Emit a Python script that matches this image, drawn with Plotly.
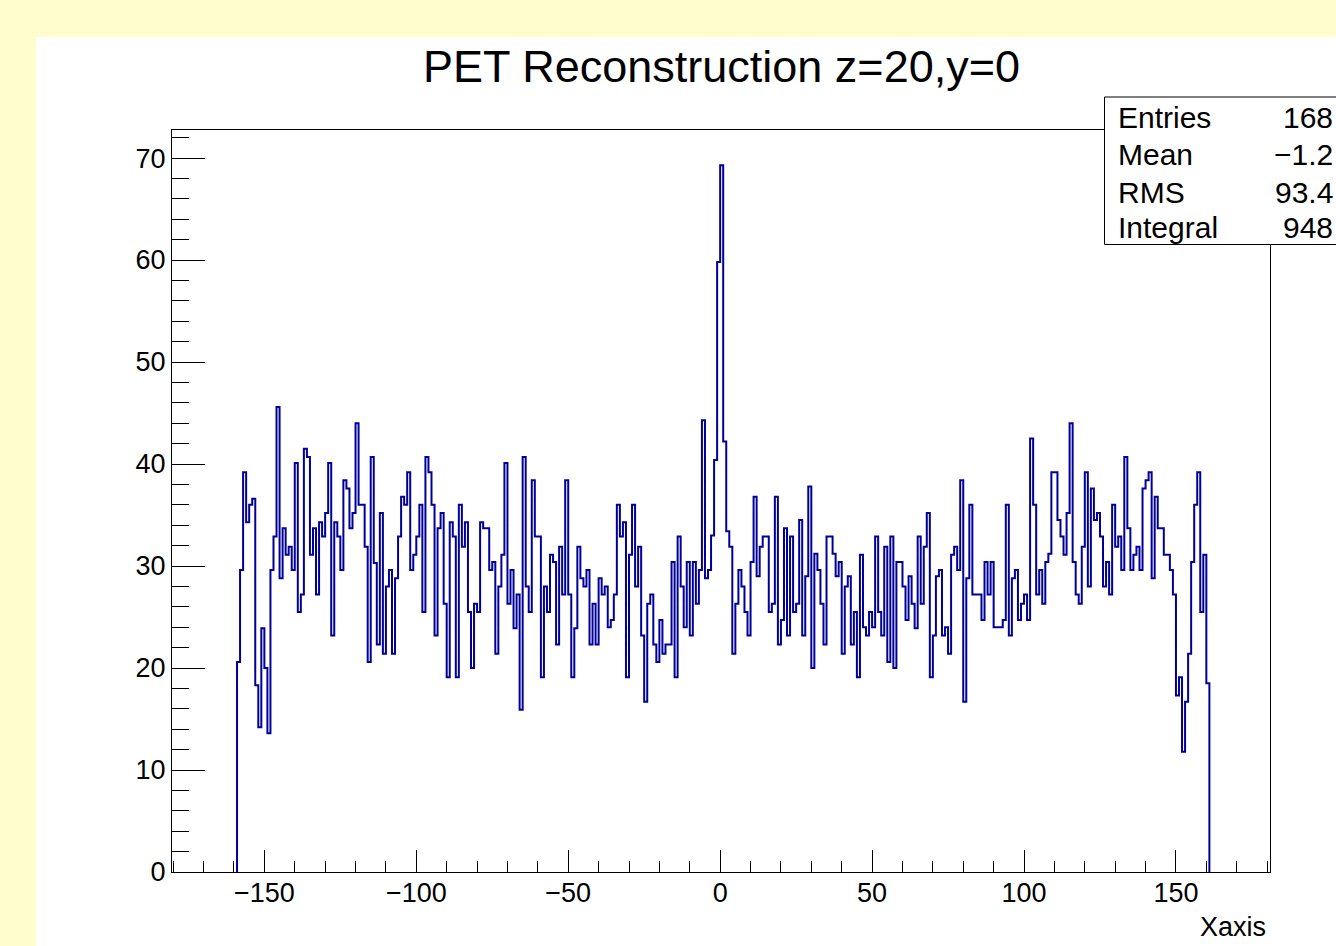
import numpy as np
import plotly.graph_objects as go

# ---------------- data ----------------
hist_lo = -159.0
hist_hi = 161.0
counts = [
    # -159 .. -121
    20.6, 29.6, 39.2, 34.3, 36.0, 36.6, 18.3, 14.2, 23.9, 20.0,
    13.6, 29.6, 32.9, 45.6, 28.8, 33.7, 31.1, 31.9, 29.6, 40.1,
    25.5, 27.2, 41.5, 40.7, 31.1, 33.7, 27.2, 34.3, 32.9, 35.2,
    40.1, 23.2, 34.3, 32.9, 29.6, 38.4, 37.6, 33.7, 35.2,
    # -120 .. -80
    44.0, 36.0, 36.0, 31.9, 20.6, 40.7, 30.3, 22.3, 35.2, 21.4,
    28.0, 29.6, 21.4, 28.8, 32.9, 36.8, 36.0, 39.2, 29.6, 31.1,
    32.9, 36.0, 25.5, 40.7, 39.2, 36.0, 23.2, 33.7, 35.2, 26.3,
    19.1, 34.3, 32.9, 19.1, 36.0, 31.9, 34.3, 25.5, 20.0, 26.3,
    25.5,
    # -79 .. -39
    34.3, 33.7, 33.7, 29.6, 30.4, 21.4, 28.0, 31.1, 40.1, 26.3,
    29.6, 23.9, 27.2, 15.9, 40.7, 28.0, 25.5, 38.4, 32.9, 32.9,
    19.1, 28.0, 25.5, 31.1, 30.4, 22.3, 31.9, 27.2, 38.4, 27.2,
    19.1, 23.9, 31.9, 28.8, 28.0, 29.6, 22.3, 26.3, 22.3, 28.8,
    27.2,
    # -38 .. 3
    28.0, 24.0, 24.7, 27.2, 36.0, 32.9, 34.3, 19.1, 31.1, 36.0,
    28.0, 31.9, 23.2, 16.7, 26.3, 27.2, 22.3, 20.6, 24.7, 21.4,
    22.3, 22.3, 30.4, 19.1, 32.9, 28.0, 24.0, 30.4, 23.2, 30.4,
    26.3, 29.6, 44.3, 28.8, 29.6, 33.0, 40.4, 59.8, 69.3, 42.2,
    33.4, 31.9,
    # 4 .. 44
    21.4, 26.3, 29.6, 28.0, 25.5, 23.2, 30.4, 36.8, 29.0, 31.9,
    32.9, 32.9, 25.5, 26.3, 36.8, 22.3, 24.7, 33.7, 23.2, 32.9,
    25.5, 26.3, 34.5, 23.2, 29.0, 37.8, 20.0, 31.2, 29.6, 26.3,
    22.3, 32.9, 32.9, 31.2, 29.0, 30.4, 21.4, 28.0, 29.0, 22.3,
    25.5,
    # 45 .. 84
    19.1, 31.1, 24.0, 23.2, 25.5, 24.0, 32.9, 25.5, 23.2, 31.9,
    20.6, 32.9, 20.0, 30.4, 30.4, 28.0, 24.7, 29.0, 26.3, 23.9,
    32.9, 26.3, 31.9, 35.2, 19.1, 23.2, 29.0, 29.6, 23.2, 24.0,
    21.4, 31.1, 31.9, 29.6, 38.4, 16.7, 28.8, 36.0, 27.2, 27.2,
    # 85 .. 126
    27.2, 24.7, 30.4, 27.2, 30.4, 24.0, 24.0, 24.0, 24.7, 36.0,
    23.2, 28.8, 29.6, 24.7, 26.3, 27.2, 24.7, 42.5, 36.0, 27.2,
    29.6, 26.3, 30.4, 31.2, 39.2, 39.2, 34.5, 32.9, 31.1, 35.2,
    44.0, 30.4, 27.2, 26.3, 31.9, 39.2, 28.0, 37.6, 34.5, 35.2,
    32.9, 28.0,
    # 127 .. 160
    30.4, 27.2, 36.0, 31.9, 32.9, 29.6, 40.7, 33.7, 29.6, 31.1,
    31.9, 29.6, 37.6, 38.4, 39.2, 28.8, 36.8, 33.7, 33.7, 31.1,
    31.1, 29.6, 27.2, 17.3, 19.1, 11.8, 16.7, 21.4, 30.4, 36.0,
    39.2, 25.5, 31.1, 18.5,
]
title_text = "PET Reconstruction z=20,y=0"
x_title = "Xaxis"
stat_names = ["Entries", "Mean", "RMS", "Integral"]
stat_values = ["168", "\u22121.2", "93.4", "948"]   # visible part (box runs off the canvas)

# ---------------- geometry ----------------
W, H = 1336, 946
L, R, T, B = 172, 1270, 130, 872
x_range = [-180.4, 180.95]
y_range = [0, 72.75]

def px(xp):
    return (xp - L) / (R - L)

def py(yp):
    return (B - yp) / (B - T)

n = len(counts)
edges = np.linspace(hist_lo, hist_hi, n + 1)
xs = np.concatenate([[edges[0]], edges])
ys = np.concatenate([[0.0], counts, [0.0]])

fig = go.Figure()
fig.add_trace(go.Scatter(
    x=xs, y=ys, mode="lines", line=dict(color="#000099", width=2, shape="hv"),
    hoverinfo="skip", showlegend=False,
))

font_family = "Liberation Sans, Arial, Helvetica, sans-serif"

fig.update_layout(
    width=W, height=H,
    margin=dict(l=L, r=W - R, t=T, b=H - B, pad=0),
    paper_bgcolor="#FFFDCD",
    plot_bgcolor="white",
    font=dict(family=font_family, color="black"),
    xaxis=dict(
        range=x_range, showgrid=False, zeroline=False,
        showline=True, linecolor="black", linewidth=1, mirror=True,
        ticks="inside", ticklen=22, tickwidth=1, tickcolor="black",
        tick0=0, dtick=50, tickfont=dict(size=27, family=font_family),
        ticklabelstandoff=-3,
        minor=dict(ticks="inside", ticklen=11, tickwidth=1, tickcolor="black",
                   tick0=0, dtick=10, showgrid=False),
    ),
    yaxis=dict(
        range=y_range, showgrid=False, zeroline=False,
        showline=True, linecolor="black", linewidth=1, mirror=True,
        ticks="inside", ticklen=33, tickwidth=1, tickcolor="black",
        tick0=0, dtick=10, tickfont=dict(size=27, family=font_family),
        ticklabelstandoff=0,
        minor=dict(ticks="inside", ticklen=16.5, tickwidth=1, tickcolor="black",
                   tick0=0, dtick=2, showgrid=False),
    ),
)

shapes = [
    # white pad
    dict(type="rect", xref="paper", yref="paper",
         x0=px(36), x1=px(W + 20), y0=py(H + 20), y1=py(37),
         fillcolor="white", line=dict(width=0), layer="below"),
    # stats box
    dict(type="rect", xref="paper", yref="paper",
         x0=px(1104.5), x1=px(W + 30), y0=py(244.5), y1=py(97),
         fillcolor="white", line=dict(color="black", width=1), layer="above"),
]

annotations = [
    dict(text=title_text, xref="paper", yref="paper", x=px(721), y=py(66),
         xanchor="center", yanchor="middle", showarrow=False,
         font=dict(size=45, family=font_family, color="black")),
    dict(text=x_title, xref="paper", yref="paper", x=px(1268), y=py(927),
         xanchor="right", yanchor="middle", showarrow=False,
         font=dict(size=27, family=font_family, color="black")),
]
row_y = [117, 155, 192, 228]
for name, val, yy in zip(stat_names, stat_values, row_y):
    annotations.append(dict(text=name, xref="paper", yref="paper", x=px(1116), y=py(yy),
                            xanchor="left", yanchor="middle", showarrow=False,
                            font=dict(size=30, family=font_family, color="black")))
    annotations.append(dict(text=val, xref="paper", yref="paper", x=px(1335), y=py(yy),
                            xanchor="right", yanchor="middle", showarrow=False,
                            font=dict(size=30, family=font_family, color="black")))

fig.update_layout(shapes=shapes, annotations=annotations)
fig.write_html("out.html")
